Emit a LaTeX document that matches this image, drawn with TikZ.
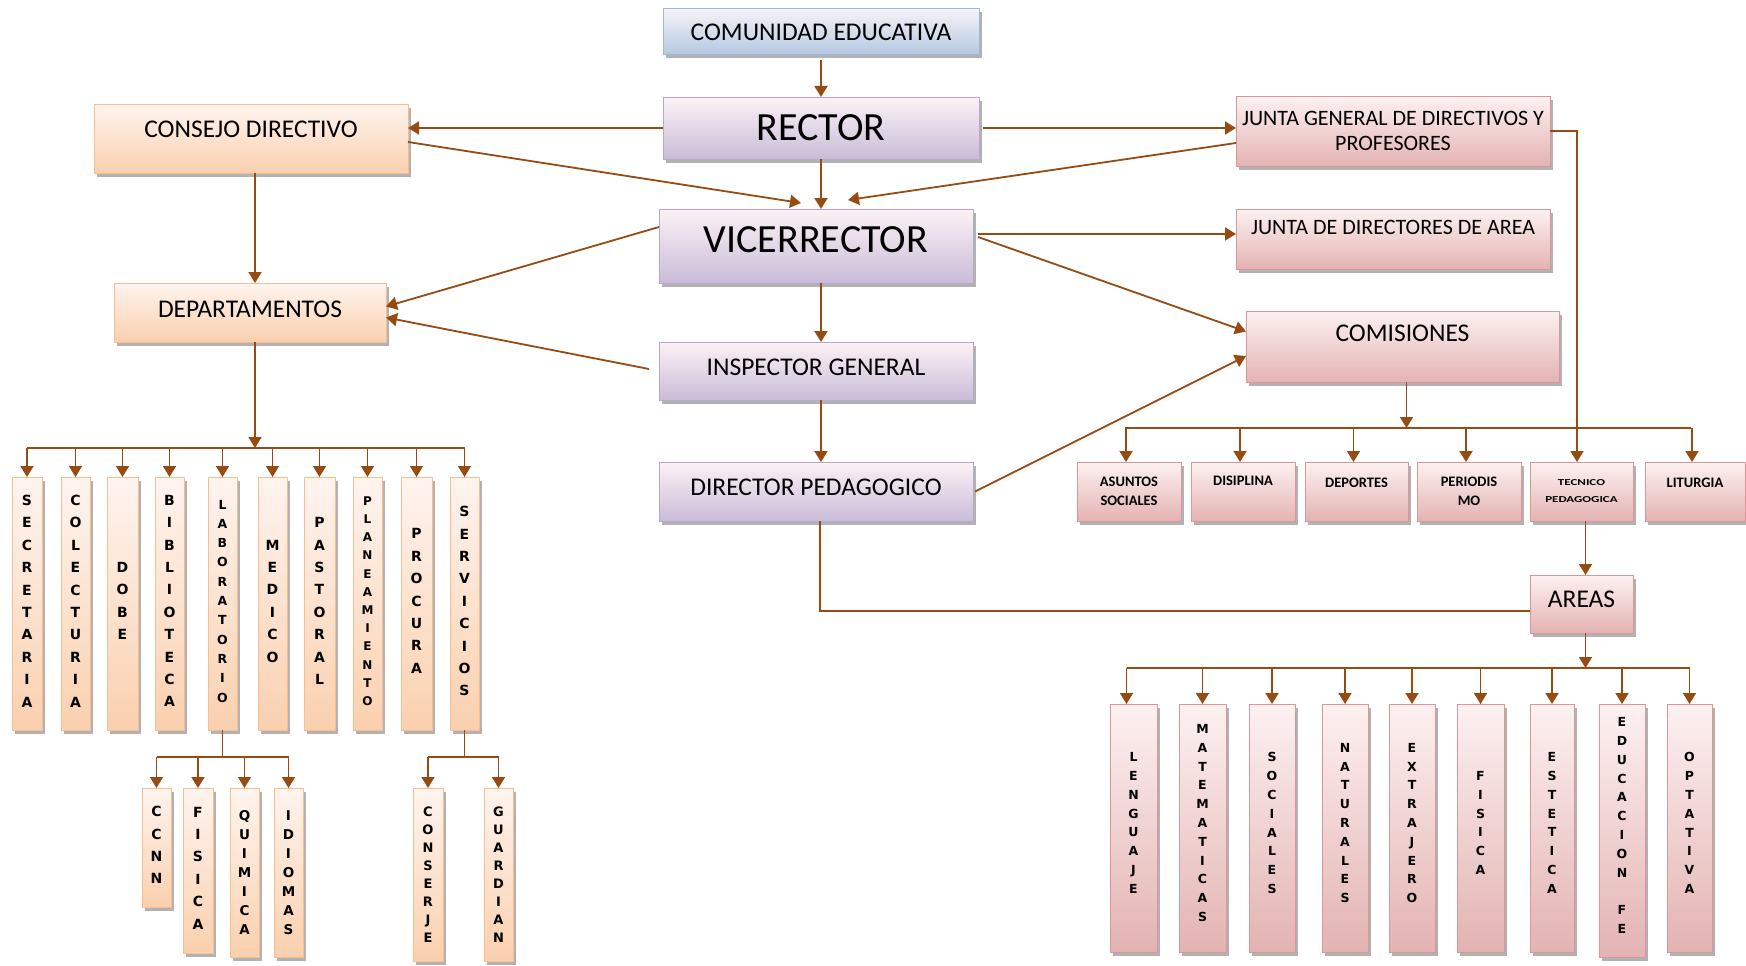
\documentclass[tikz,border=0pt]{standalone}
\usepackage{fontspec}
\usepackage{graphicx}
\setmainfont{Carlito}
\newfontfamily\vfont{DejaVu Sans}
\usetikzlibrary{arrows.meta,shadows}
\definecolor{arrc}{HTML}{964B12}
\definecolor{blueTop}{HTML}{F6F3F8}
\definecolor{blueBot}{HTML}{B3C8E1}
\definecolor{blueBd}{HTML}{9BB7D9}
\definecolor{purTop}{HTML}{FCF2F5}
\definecolor{purBot}{HTML}{C9BCD8}
\definecolor{purBd}{HTML}{B8A8CC}
\definecolor{peachTop}{HTML}{FFF4EF}
\definecolor{peachBot}{HTML}{FAD0AE}
\definecolor{peachBd}{HTML}{F8BE90}
\definecolor{pinkTop}{HTML}{FDF1F1}
\definecolor{pinkBot}{HTML}{E3B3B2}
\definecolor{pinkBd}{HTML}{D9979A}
\makeatletter
\def\vstk#1{\vbox{\vstk@#1\@nil}}
\def\vstk@#1#2\@nil{\hbox to 0pt{\hss#1\hss}\ifx\relax#2\relax\else\vstk@#2\@nil\fi}
\makeatother
\newcommand\bx[7]{\node[#6, minimum width={(#4)-(#2)}, minimum height={(#5)-(#3)}] (#1) at ({((#2)+(#4))/2},{((#3)+(#5))/2}) {#7};}
\begin{document}
\begin{tikzpicture}[x=1pt,y=-1pt,
  box/.style={rectangle, line width=1pt, inner sep=0pt, outer sep=0pt,
    drop shadow={shadow xshift=2.5pt, shadow yshift=-3.5pt, fill=black, opacity=0.3}},
  bluebox/.style={box, draw=blueBd, top color=blueTop, bottom color=blueBot},
  purbox/.style={box, draw=purBd, top color=purTop, bottom color=purBot},
  peachbox/.style={box, draw=peachBd, top color=peachTop, bottom color=peachBot},
  pinkbox/.style={box, draw=pinkBd, top color=pinkTop, bottom color=pinkBot},
  mt/.style={font=\fontsize{25.5}{28}\selectfont},
  bigt/.style={font=\fontsize{40}{44}\selectfont},
  jt/.style={font=\fontsize{22}{25}\selectfont, align=center},
  ct/.style={font=\bfseries\fontsize{14.5}{19}\selectfont, align=center},
  vt/.style={font=\vfont\bfseries\fontsize{14}{22.4}\selectfont, text depth=5pt},
  vtq/.style={font=\vfont\bfseries\fontsize{13.5}{19}\selectfont},
  vtc/.style={font=\vfont\bfseries\fontsize{13}{18}\selectfont},
  vts/.style={font=\vfont\bfseries\fontsize{12.5}{19.3}\selectfont, text depth=5pt},
  vtp/.style={font=\vfont\bfseries\fontsize{12}{18.2}\selectfont, text depth=5pt},
  vta/.style={font=\vfont\bfseries\fontsize{12.5}{18.8}\selectfont, text depth=10pt},
  conn/.style={draw=arrc, line width=1.8pt},
  arr/.style={conn, -{Triangle[length=11pt,width=13pt]}}
]
\fill[white] (0,0) rectangle (1746,966);
\path[use as bounding box] (0,0) rectangle (1746,966);

% centre column
\bx{comunidad}{663}{9}{979}{55}{bluebox, mt}{COMUNIDAD EDUCATIVA}
\bx{rector}{663}{97}{979}{159}{purbox, bigt}{RECTOR}
\bx{vicerrector}{659}{209}{973}{283}{purbox, bigt, text depth=12pt}{VICERRECTOR}
\bx{inspector}{659}{342}{973}{400}{purbox, mt, text depth=7pt}{INSPECTOR GENERAL}
\bx{dp}{659}{462}{973}{521}{purbox, mt, text depth=9pt}{DIRECTOR PEDAGOGICO}

% left
\bx{consejo}{94}{104}{408}{173}{peachbox, mt, text depth=19pt}{CONSEJO DIRECTIVO}
\bx{deptos}{114}{283}{386}{342}{peachbox, mt, text depth=6pt}{DEPARTAMENTOS}

% right
\bx{juntag}{1236}{96}{1550}{166}{pinkbox, jt}{JUNTA GENERAL DE DIRECTIVOS Y\\PROFESORES}
\bx{juntad}{1236}{209}{1550}{269}{pinkbox, jt, text depth=23pt}{JUNTA DE DIRECTORES DE AREA}
\bx{comisiones}{1246}{311}{1559}{382}{pinkbox, mt, text depth=27pt}{COMISIONES}

% comisiones
\bx{asuntos}{1077}{462}{1181}{521}{pinkbox, ct}{ASUNTOS\\SOCIALES}
\bx{disiplina}{1191}{462}{1295}{521}{pinkbox, ct, text depth=22pt}{DISIPLINA}
\bx{deportes}{1305}{462}{1408}{521}{pinkbox, ct, text depth=18pt}{DEPORTES}
\bx{periodismo}{1417}{462}{1521}{521}{pinkbox, ct}{PERIODIS\\MO}
\bx{tecnico}{1530}{462}{1633}{521}{pinkbox, font=\bfseries\fontsize{13}{17}\selectfont, align=center}{\scalebox{1}[0.7]{TECNICO}\\\scalebox{1}[0.7]{PEDAGOGICA}}
\bx{liturgia}{1645}{462}{1745}{521}{pinkbox, ct, text depth=18pt}{LITURGIA}

\bx{areas}{1530}{575}{1633}{633}{pinkbox, mt, text depth=10pt}{AREAS}

% areas
\bx{lenguaje}{1110}{704}{1157}{952}{pinkbox, vta}{\vstk{LENGUAJE}}
\bx{matematicas}{1179}{704}{1226}{952}{pinkbox, vta}{\vstk{MATEMATICAS}}
\bx{sociales}{1249}{704}{1295}{952}{pinkbox, vta}{\vstk{SOCIALES}}
\bx{naturales}{1322}{704}{1368}{952}{pinkbox, vta}{\vstk{NATURALES}}
\bx{extranjero}{1389}{704}{1435}{952}{pinkbox, vta}{\vstk{EXTRAJERO}}
\bx{fisicaA}{1457}{704}{1504}{952}{pinkbox, vta}{\vstk{FISICA}}
\bx{estetica}{1530}{704}{1574}{952}{pinkbox, vta}{\vstk{ESTETICA}}
\bx{educacion}{1599}{704}{1645}{957}{pinkbox, vta}{\vstk{EDUCACION~FE}}
\bx{optativa}{1667}{704}{1712}{952}{pinkbox, vta}{\vstk{OPTATIVA}}

% departamentos
\bx{secretaria}{12}{477}{42}{730}{peachbox, vt}{\vstk{SECRETARIA}}
\bx{colecturia}{61}{477}{90}{730}{peachbox, vt}{\vstk{COLECTURIA}}
\bx{dobe}{107}{477}{138}{730}{peachbox, vt}{\vstk{DOBE}}
\bx{biblioteca}{155}{477}{184}{730}{peachbox, vt}{\vstk{BIBLIOTECA}}
\bx{laboratorio}{208}{477}{237}{730}{peachbox, vts}{\vstk{LABORATORIO}}
\bx{medico}{258}{477}{287}{730}{peachbox, vt}{\vstk{MEDICO}}
\bx{pastoral}{304}{477}{335}{730}{peachbox, vt}{\vstk{PASTORAL}}
\bx{planeamiento}{353}{477}{382}{730}{peachbox, vtp}{\vstk{PLANEAMIENTO}}
\bx{procura}{401}{477}{432}{730}{peachbox, vt}{\vstk{PROCURA}}
\bx{servicios}{450}{477}{479}{730}{peachbox, vt}{\vstk{SERVICIOS}}

\bx{ccnn}{142}{788}{171}{907}{peachbox, vt}{\vstk{CCNN}}
\bx{fisicaL}{183}{788}{213}{953}{peachbox, vt}{\vstk{FISICA}}
\bx{quimica}{230}{788}{259}{957}{peachbox, vtq}{\vstk{QUIMICA}}
\bx{idiomas}{274}{788}{303}{957}{peachbox, vtq}{\vstk{IDIOMAS}}
\bx{conserje}{413}{788}{443}{961}{peachbox, vtc}{\vstk{CONSERJE}}
\bx{guardian}{484}{788}{513}{961}{peachbox, vtc}{\vstk{GUARDIAN}}

% helper coordinates
\coordinate (cx) at (821,0);
\coordinate (lx) at (255,0);
\coordinate (db) at (0,448);
\coordinate (lb) at (0,757);
\coordinate (cb) at (0,428);
\coordinate (ab) at (0,668);

% connectors centre
\draw[arr, shorten <=5pt] (cx |- comunidad.south) -- (cx |- rector.north);
\draw[arr] (cx |- rector.south) -- (cx |- vicerrector.north);
\draw[arr] (cx |- vicerrector.south) -- (cx |- inspector.north);
\draw[arr] (cx |- inspector.south) -- (cx |- dp.north);

\draw[arr] (rector.west) -- (rector.west -| consejo.east);
\draw[arr] ([yshift=-3.5pt]consejo.east) -- ([xshift=-15pt,yshift=6pt]vicerrector.north);
\draw[arr] ([xshift=4pt]rector.east) -- (rector.east -| juntag.west);
\draw[arr] ([yshift=-12pt]juntag.west) -- ([xshift=32pt,yshift=9pt]vicerrector.north);
\draw[arr] ([xshift=5pt,yshift=12pt]vicerrector.east) -- ([yshift=12pt]vicerrector.east -| juntad.west);
\draw[arr] ([xshift=5pt,yshift=9pt]vicerrector.east) -- ([yshift=15pt]comisiones.west);
\draw[arr] ([xshift=2pt]dp.east) -- ([yshift=-9.5pt]comisiones.west);
\draw[arr] ([yshift=19pt]vicerrector.west) -- ([yshift=6pt]deptos.east);
\draw[arr] ([xshift=-10pt,yshift=2pt]inspector.west) -- ([yshift=-5pt]deptos.east);

% left tree
\draw[arr] (lx |- consejo.south) -- (lx |- deptos.north);
\draw[arr] (lx |- deptos.south) -- (lx |- db);
\draw[conn] (secretaria.north |- db) -- (servicios.north |- db);
\foreach \n in {secretaria,colecturia,dobe,biblioteca,laboratorio,medico,pastoral,planeamiento,procura,servicios}
  \draw[arr] (\n.north |- db) -- (\n.north);
\draw[conn] (laboratorio.south) -- (laboratorio.south |- lb);
\draw[conn] (ccnn.north |- lb) -- (idiomas.north |- lb);
\foreach \n in {ccnn,fisicaL,quimica,idiomas}
  \draw[arr] (\n.north |- lb) -- (\n.north);
\draw[conn] (servicios.south) -- (servicios.south |- lb);
\draw[conn] (conserje.north |- lb) -- (guardian.north |- lb);
\foreach \n in {conserje,guardian}
  \draw[arr] (\n.north |- lb) -- (\n.north);

% right trees
\draw[arr] ([xshift=4pt]comisiones.south) -- ([xshift=4pt]comisiones.south |- cb);
\draw[conn] ([xshift=-4pt]asuntos.north |- cb) -- ([xshift=-4pt]liturgia.north |- cb);
\foreach \n in {asuntos,disiplina,deportes,periodismo,liturgia}
  \draw[arr] ([xshift=-3pt]\n.north |- cb) -- ([xshift=-3pt]\n.north);
\draw[arr] (juntag.east) -| ([xshift=-4.5pt]tecnico.north);
\draw[arr] ([xshift=4pt]tecnico.south) -- ([xshift=4pt]areas.north);
\draw[conn] ([xshift=4pt]dp.south) |- ([yshift=-7pt]areas.west);
\draw[arr] ([xshift=4pt]areas.south) -- ([xshift=4pt]areas.south |- ab);
\draw[conn] ([xshift=-7pt]lenguaje.north |- ab) -- (optativa.north |- ab);
\draw[arr] ([xshift=-7pt]lenguaje.north |- ab) -- ([xshift=-7pt]lenguaje.north);
\foreach \n in {matematicas,sociales,naturales,extranjero,fisicaA,estetica,educacion,optativa}
  \draw[arr] (\n.north |- ab) -- (\n.north);
\end{tikzpicture}
\end{document}
